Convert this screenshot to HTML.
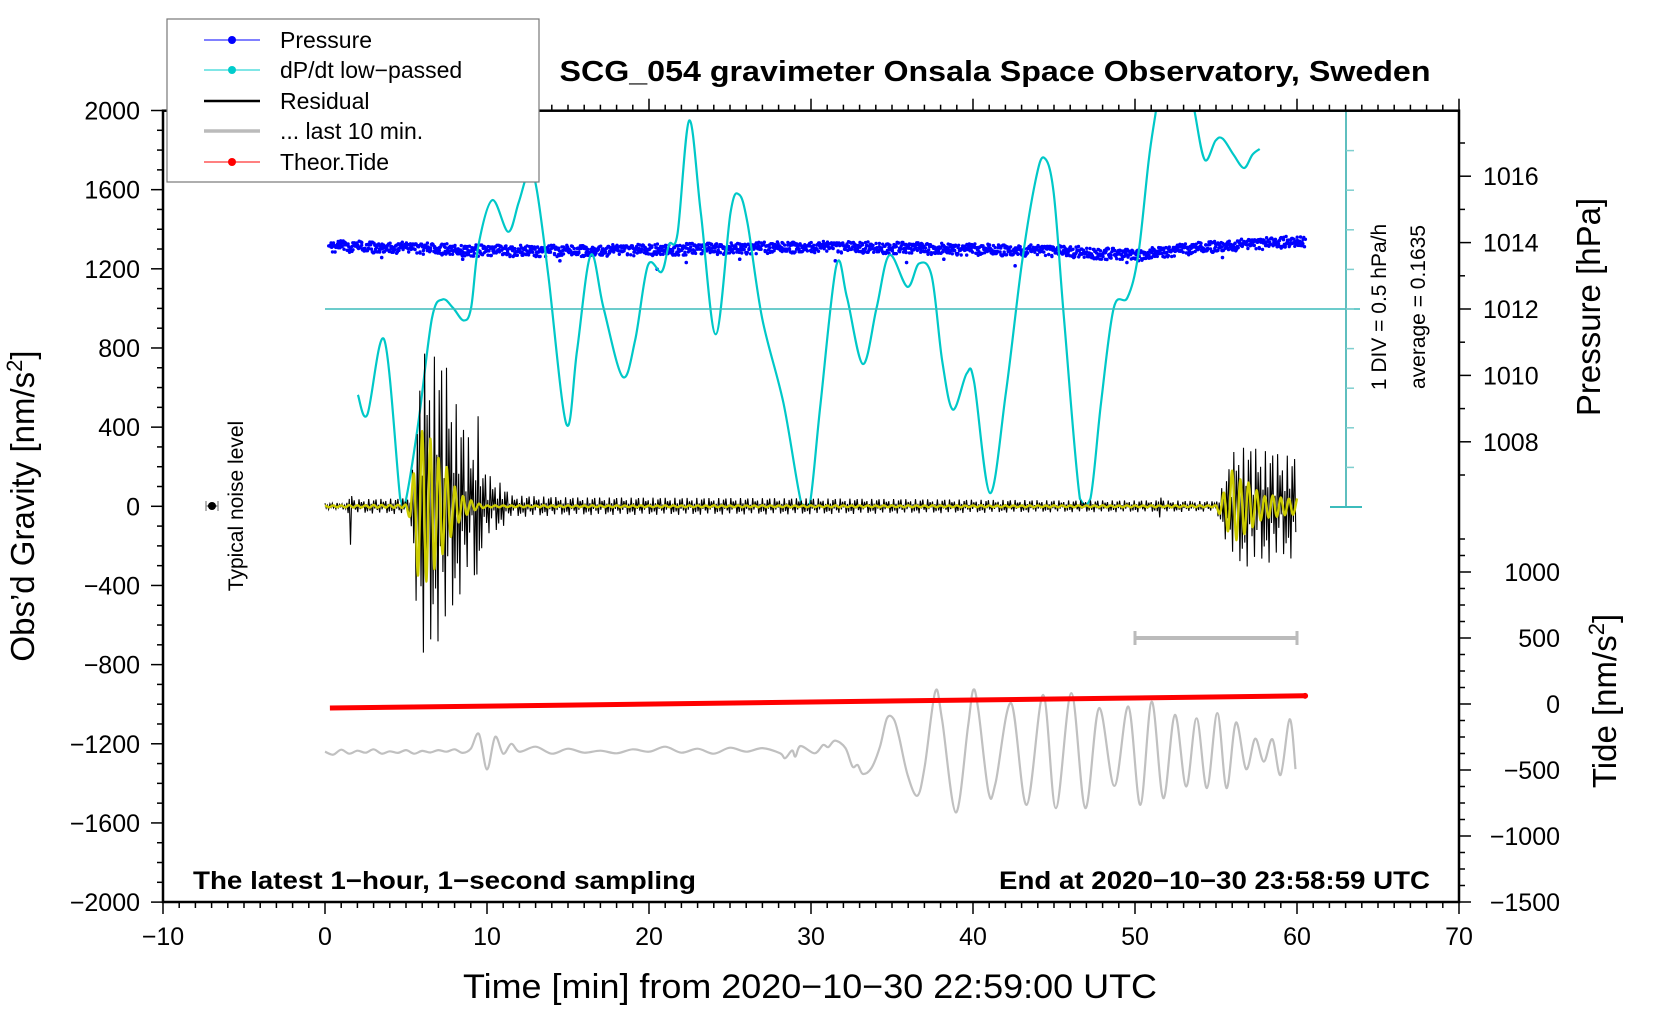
<!DOCTYPE html>
<html><head><meta charset="utf-8"><title>SCG_054 gravimeter</title>
<style>
html,body{margin:0;padding:0;background:#fff;}
svg{display:block;font-family:"Liberation Sans",Arial,sans-serif;}
</style></head>
<body>
<svg id="chart" xmlns="http://www.w3.org/2000/svg" width="1660" height="1020" viewBox="0 0 1660 1020">
<defs><clipPath id="plotclip"><rect x="163" y="110.7" width="1296" height="791.3"/></clipPath></defs>
<rect x="0" y="0" width="1660" height="1020" fill="#fff"/>
<g id="series" clip-path="url(#plotclip)"></g>
<g id="axes"></g>
<rect x="163" y="110.7" width="1296" height="791.3" fill="none" stroke="#000" stroke-width="2.5"/>

<text x="995" y="81" text-anchor="middle" font-size="29" font-weight="bold" textLength="871" lengthAdjust="spacingAndGlyphs">SCG_054 gravimeter Onsala Space Observatory, Sweden</text>
<text x="810" y="998" text-anchor="middle" font-size="34" textLength="694" lengthAdjust="spacingAndGlyphs">Time [min] from 2020−10−30 22:59:00 UTC</text>
<text transform="translate(34,506) rotate(-90)" text-anchor="middle" font-size="33">Obs’d Gravity [nm/s<tspan font-size="22" dy="-12">2</tspan><tspan dy="12">]</tspan></text>
<text transform="translate(1600,307) rotate(-90)" text-anchor="middle" font-size="33">Pressure [hPa]</text>
<text transform="translate(1616,701) rotate(-90)" text-anchor="middle" font-size="33">Tide [nm/s<tspan font-size="22" dy="-12">2</tspan><tspan dy="12">]</tspan></text>
<text x="193" y="889" font-size="25" font-weight="bold" textLength="503" lengthAdjust="spacingAndGlyphs">The latest 1−hour, 1−second sampling</text>
<text x="1430" y="889" text-anchor="end" font-size="25" font-weight="bold" textLength="431" lengthAdjust="spacingAndGlyphs">End at 2020−10−30 23:58:59 UTC</text>
<text transform="translate(1386,307) rotate(-90)" text-anchor="middle" font-size="21">1 DIV = 0.5 hPa/h</text>
<text transform="translate(1425,307) rotate(-90)" text-anchor="middle" font-size="21">average = 0.1635</text>
<text transform="translate(243,506) rotate(-90)" text-anchor="middle" font-size="21">Typical noise level</text>
<g>
<line x1="206" y1="506" x2="218" y2="506" stroke="#999" stroke-width="2"/>
<line x1="206" y1="501" x2="206" y2="511" stroke="#999" stroke-width="1.5"/>
<line x1="218" y1="501" x2="218" y2="511" stroke="#999" stroke-width="1.5"/>
<circle cx="212" cy="506" r="4" fill="#000"/>
</g>

<g>
<rect x="167" y="19" width="372" height="163" fill="#fff" stroke="#777" stroke-width="1.2"/>
<g><line x1="204" y1="40" x2="260" y2="40" stroke="#00f" stroke-width="1"/><circle cx="232" cy="40" r="4" fill="#00f"/><text x="280" y="48" font-size="23">Pressure</text></g>
<g><line x1="204" y1="70" x2="260" y2="70" stroke="#00cccc" stroke-width="1"/><circle cx="232" cy="70" r="4" fill="#00cccc"/><text x="280" y="78" font-size="23">dP/dt low−passed</text></g>
<g><line x1="204" y1="101" x2="260" y2="101" stroke="#000" stroke-width="2.5"/><text x="280" y="109" font-size="23">Residual</text></g>
<g><line x1="204" y1="131" x2="260" y2="131" stroke="#bbb" stroke-width="3.5"/><text x="280" y="139" font-size="23">... last 10 min.</text></g>
<g><line x1="204" y1="162" x2="260" y2="162" stroke="#f00" stroke-width="1"/><circle cx="232" cy="162" r="4" fill="#f00"/><text x="280" y="170" font-size="23">Theor.Tide</text></g>
</g>
</svg>
<script>
// ---- data ----
const xTicks = [-10,0,10,20,30,40,50,60,70];
const gTicks = [2000,1600,1200,800,400,0,-400,-800,-1200,-1600,-2000];
const pTicks = [1008,1010,1012,1014,1016];
const tideTicks = [1000,500,0,-500,-1000,-1500];

const pressT = [0.3,5,10,15,20,25,30,35,40,45,48,50,52,55,58,60.5];
const pressV = [1013.9,1013.85,1013.76,1013.76,1013.79,1013.83,1013.88,1013.85,1013.8,1013.76,1013.68,1013.62,1013.75,1013.9,1013.98,1014.06];

const dpT = [2.03,2.61,3.66,4.64,4.9,5.75,6.6,7.25,7.9,8.56,9.02,9.48,10.33,11.31,11.96,12.61,13.07,13.79,14.9,15.56,16.4,17.19,18.37,19.15,19.93,20.78,21.24,21.76,22.48,23.2,24.12,25.03,25.56,26.08,26.99,28.3,29.41,29.93,30.59,31.57,32.22,33.2,34.05,34.84,35.95,36.67,37.45,38.1,38.76,39.61,40.07,41.05,42.03,43.0,43.86,44.38,44.97,45.62,46.6,47.25,47.9,48.69,49.54,50.2,50.85,51.3,51.7,52.2,53.0,53.66,54.3,54.97,55.42,56.08,56.73,57.25,57.7];
const dpV = [-2.17,-2.67,-0.78,-4.79,-5,-2.91,-0.24,0.24,0.03,-0.29,0.03,1.63,2.75,1.95,2.7,3.5,3.02,0.83,-2.91,-1.04,1.36,0.03,-1.71,-0.78,1.1,0.94,1.63,1.9,4.76,2.43,-0.64,2.43,2.89,2.17,-0.24,-2.38,-4.92,-4.92,-2.38,1.1,0.29,-1.39,0.03,1.36,0.56,1.15,0.83,-1.31,-2.54,-1.63,-1.84,-4.65,-2.11,1.1,3.24,3.82,2.97,-0.24,-4.79,-4.79,-2.38,0.03,0.29,1.36,3.77,5.03,6.2,6.5,6.5,5.03,3.77,4.25,4.3,3.9,3.56,3.9,4.04];

const resEnvT = [0,1.4,1.54,1.7,2,5,5.25,5.6,6.0,6.7,7.5,8.3,9.1,9.4,9.7,10.8,11.5,15,30,45,51.3,51.5,51.7,55,55.5,56.2,57.5,59,60];
const resEnvUp = [15,18,143,30,35,40,60,350,775,760,700,455,300,510,180,120,55,45,40,30,30,80,30,25,120,300,290,260,250];
const resEnvDn = [15,18,240,30,35,40,60,450,890,700,650,450,300,510,185,120,55,45,40,30,30,60,30,25,150,310,300,270,260];

const yelEnvT = [0,5.0,5.3,5.8,6.5,7.2,8.0,8.6,9.2,10,55,55.6,56.0,57,58,60];
const yelEnvV = [5,8,60,380,380,250,110,50,20,5,5,80,200,120,60,40];

const greyT = [0,0.5,1,1.5,2,2.5,3,3.5,4,4.5,5,5.5,6,6.5,7,7.5,8,8.5,9,9.5,10,10.5,11,11.5,12,13,14,15,16,17,18,19,20,21,22,23,24,25,26,27,28.09,28.4,28.83,29.04,29.36,30.22,30.75,31.07,31.49,32.13,32.56,32.88,33.2,33.73,34.26,34.69,35.11,35.43,35.96,36.56,37.02,37.67,38.09,38.94,39.69,40.01,40.33,40.96,41.39,42.35,43.31,44.33,45.12,46.07,46.93,47.78,48.73,49.59,50.33,51.03,51.75,52.46,53.16,53.8,54.44,55.08,55.65,56.23,56.86,57.42,57.95,58.48,58.99,59.55,59.91];
const greyV = [-1240,-1255,-1230,-1250,-1235,-1245,-1228,-1250,-1238,-1246,-1232,-1250,-1236,-1244,-1232,-1240,-1228,-1246,-1225,-1150,-1330,-1165,-1250,-1200,-1240,-1215,-1250,-1225,-1245,-1235,-1248,-1228,-1240,-1215,-1245,-1225,-1250,-1220,-1240,-1222,-1248,-1273,-1234,-1265,-1211,-1248,-1206,-1217,-1184,-1222,-1315,-1307,-1352,-1323,-1214,-1071,-1076,-1164,-1357,-1463,-1315,-936,-1079,-1547,-1113,-928,-1029,-1446,-1399,-995,-1509,-953,-1525,-944,-1525,-1020,-1413,-1012,-1509,-987,-1475,-1054,-1416,-1071,-1424,-1045,-1424,-1093,-1328,-1174,-1290,-1177,-1357,-1076,-1328];

const tideT = [0.3,15,30,45,60.5];
const tideV = [-30,-8,15,38,62];

// ---- scales ----
const X = t => 163 + (t + 10) * 16.2;
const YG = g => 506.3 - g * 0.1979;
const YP = p => 309 - (p - 1012) * 33.2;
const YT = v => 704 - v * 0.132;
const YD = d => 309 - d * 39.6;

const NS = 'http://www.w3.org/2000/svg';
const series = document.getElementById('series');
const axes = document.getElementById('axes');
function el(tag, attrs, parent) {
  const e = document.createElementNS(NS, tag);
  for (const k in attrs) e.setAttribute(k, attrs[k]);
  parent.appendChild(e);
  return e;
}
function interp(ts, vs, t) {
  if (t <= ts[0]) return vs[0];
  for (let i = 1; i < ts.length; i++) {
    if (t <= ts[i]) { const f = (t - ts[i-1]) / (ts[i] - ts[i-1]); return vs[i-1] + f * (vs[i] - vs[i-1]); }
  }
  return vs[vs.length - 1];
}
function smoothPath(pts, yMax) {
  const cy = v => (yMax !== undefined ? Math.min(v, yMax) : v);
  let d = 'M' + pts[0][0].toFixed(1) + ',' + pts[0][1].toFixed(1);
  for (let i = 0; i < pts.length - 1; i++) {
    const p0 = pts[Math.max(0, i-1)], p1 = pts[i], p2 = pts[i+1], p3 = pts[Math.min(pts.length-1, i+2)];
    const c1x = p1[0] + (p2[0]-p0[0])/6, c1y = cy(p1[1] + (p2[1]-p0[1])/6);
    const c2x = p2[0] - (p3[0]-p1[0])/6, c2y = cy(p2[1] - (p3[1]-p1[1])/6);
    d += ' C' + c1x.toFixed(1)+','+c1y.toFixed(1)+' '+c2x.toFixed(1)+','+c2y.toFixed(1)+' '+p2[0].toFixed(1)+','+p2[1].toFixed(1);
  }
  return d;
}

// ---- teal dP/dt axis ----
const tealAxis = el('g', {}, axes);


el('line', {x1:X(0), y1:YD(0), x2:1360, y2:YD(0), stroke:'#3cbcbc', 'stroke-width':1.5}, tealAxis);
el('line', {x1:1346, y1:YD(5), x2:1346, y2:YD(-5), stroke:'#5fbfbf', 'stroke-width':2}, tealAxis);
el('line', {x1:1330, y1:YD(-5), x2:1362, y2:YD(-5), stroke:'#3cbcbc', 'stroke-width':2}, tealAxis);
el('line', {x1:1330, y1:YD(5), x2:1362, y2:YD(5), stroke:'#3cbcbc', 'stroke-width':2}, tealAxis);
for (let d = -4; d <= 4; d++) el('line', {x1:1346, y1:YD(d), x2:1354, y2:YD(d), stroke:'#7fcfcf', 'stroke-width':1.5}, tealAxis);

// ---- pressure dots ----
const pOffsets = [0,0.09,-0.12,0.04,-0.06,0.14,-0.15,0.02,-0.09,0.07,-0.03,0.12,-0.07,0.01,-0.13,0.05,-0.04,0.1,-0.18,0.16,-0.01,0.11,-0.1,0.06,-0.14,0.03,-0.05];
const pg = el('g', {fill:'#0000ff'}, series);


let k = 0;
for (let t = pressT[0]; t <= pressT[pressT.length-1]; t += 0.03) {
  const p = interp(pressT, pressV, t) + pOffsets[(k * k * 7 + k * 3 + (k >> 4)) % pOffsets.length];
  el('circle', {cx:(X(t) + ((k * 13) % 5) * 0.6 - 1.2).toFixed(1), cy:YP(p).toFixed(1), r:1.7}, pg);
  k++;
}
const strayT = [14.5,20.5,22.3,31.5,35.9,42.6,49.5,55.4,3.5,8.5,25.6,38.2];
const strayV = [1013.45,1013.2,1013.4,1013.45,1013.4,1013.3,1013.4,1013.55,1013.55,1013.5,1013.5,1013.5];
for (let i = 0; i < strayT.length; i++) el('circle', {cx:X(strayT[i]), cy:YP(strayV[i]), r:1.8}, pg);

// ---- dP/dt curve ----
const dpPts = dpT.map((t, i) => [X(t), YD(Math.max(-5, dpV[i]))]);
const dp = el('path', {d:smoothPath(dpPts, YD(-5)), fill:'none', stroke:'#00c8c8', 'stroke-width':2.2}, series);


const topMask = el('rect', {x:X(51.35), y:70, width:X(53.6)-X(51.35), height:YD(5)-70+1, fill:'#fff'}, series);



// ---- residual (black) ----
const resPattern = [1,-0.6,0.35,-1,0.8,-0.3,0.95,-0.5,0.2,-0.85,1,-0.4,0.6,-0.15,0.7,-0.9,0.3,-0.7];
let rd = '';
let i = 0;
for (let t = 0; t <= 60; t += 0.075) {
  const s = resPattern[i % resPattern.length];
  const amp = s > 0 ? interp(resEnvT, resEnvUp, t) : interp(resEnvT, resEnvDn, t);
  rd += (i ? 'L' : 'M') + X(t).toFixed(1) + ',' + YG(s * amp).toFixed(1);
  i++;
}
const res = el('path', {d:rd, fill:'none', stroke:'#000', 'stroke-width':1.1}, series);



// ---- low-passed residual (yellow) ----
const yelPattern = [1,-1,0.9,-0.95,0.85,-1];
const yelPts = [];
i = 0;
for (let t = 0; t <= 60; t += 0.25) {
  yelPts.push([X(t), YG(yelPattern[i % yelPattern.length] * interp(yelEnvT, yelEnvV, t))]);
  i++;
}
const yel = el('path', {d:smoothPath(yelPts), fill:'none', stroke:'#cccc00', 'stroke-width':2.4}, series);



// ---- last 10 min (grey) ----
const greyPts = greyT.map((t, j) => [X(t), YG(greyV[j])]);
const grey = el('path', {d:smoothPath(greyPts), fill:'none', stroke:'#c0c0c0', 'stroke-width':2.2}, series);



// ---- scale bar ----
const bar = el('g', {stroke:'#bbb', 'stroke-width':4}, series);


el('line', {x1:X(50), y1:638, x2:X(60), y2:638}, bar);
el('line', {x1:X(50), y1:631, x2:X(50), y2:645, 'stroke-width':3}, bar);
el('line', {x1:X(60), y1:631, x2:X(60), y2:645, 'stroke-width':3}, bar);

// ---- tide (red) ----
const tidePts = tideT.map((t, j) => X(t).toFixed(1) + ',' + YT(tideV[j]).toFixed(1)).join(' ');
const tide = el('polyline', {points:tidePts, fill:'none', stroke:'#ff0000', 'stroke-width':5}, series);


const tideEnd = el('circle', {cx:X(tideT[tideT.length-1]), cy:YT(tideV[tideV.length-1]), r:3, fill:'#f00'}, series);



// ---- x axis ticks ----
const xg = el('g', {stroke:'#000', 'stroke-width':1.5}, axes);


for (let t = -10; t <= 70; t++) {
  const major = t % 10 === 0;
  el('line', {x1:X(t), y1:902, x2:X(t), y2:902 + (major ? 12 : 6)}, xg);
  if (X(t) > 539) el('line', {x1:X(t), y1:110.7, x2:X(t), y2:110.7 - (major ? 12 : 6)}, xg);
}
const xl = el('g', {'font-size':25, 'text-anchor':'middle'}, axes);


for (const t of xTicks) { const tx = el('text', {x:X(t), y:945}, xl); tx.textContent = (t < 0 ? '−' + (-t) : String(t)); }

// ---- left gravity axis ----
const lg = el('g', {stroke:'#000', 'stroke-width':1.5}, axes);


for (let g = -2000; g <= 2000; g += 100) el('line', {x1:163, y1:YG(g), x2:163 - (g % 400 === 0 ? 12 : 6), y2:YG(g)}, lg);
const ll = el('g', {'font-size':25, 'text-anchor':'end'}, axes);


for (const g of gTicks) { const tx = el('text', {x:140, y:YG(g) + 9}, ll); tx.textContent = (g < 0 ? '−' + (-g) : String(g)); }

// ---- right pressure axis ----
const pr = el('g', {stroke:'#000', 'stroke-width':1.5}, axes);


for (let p = 1007; p <= 1017; p++) el('line', {x1:1459, y1:YP(p), x2:1459 + (p % 2 === 0 ? 12 : 6), y2:YP(p)}, pr);
const pl = el('g', {'font-size':25}, axes);


for (const p of pTicks) { const tx = el('text', {x:1483, y:YP(p) + 9}, pl); tx.textContent = String(p); }

// ---- right tide axis ----
const tr = el('g', {stroke:'#000', 'stroke-width':1.5}, axes);


for (let v = -1500; v <= 1250; v += 125) el('line', {x1:1459, y1:YT(v), x2:1459 + (v % 500 === 0 ? 12 : 6), y2:YT(v)}, tr);
const tl = el('g', {'font-size':25, 'text-anchor':'end'}, axes);


for (const v of tideTicks) { const tx = el('text', {x:1560, y:YT(v) + 9}, tl); tx.textContent = (v < 0 ? '−' + (-v) : String(v)); }
</script>
</body></html>
